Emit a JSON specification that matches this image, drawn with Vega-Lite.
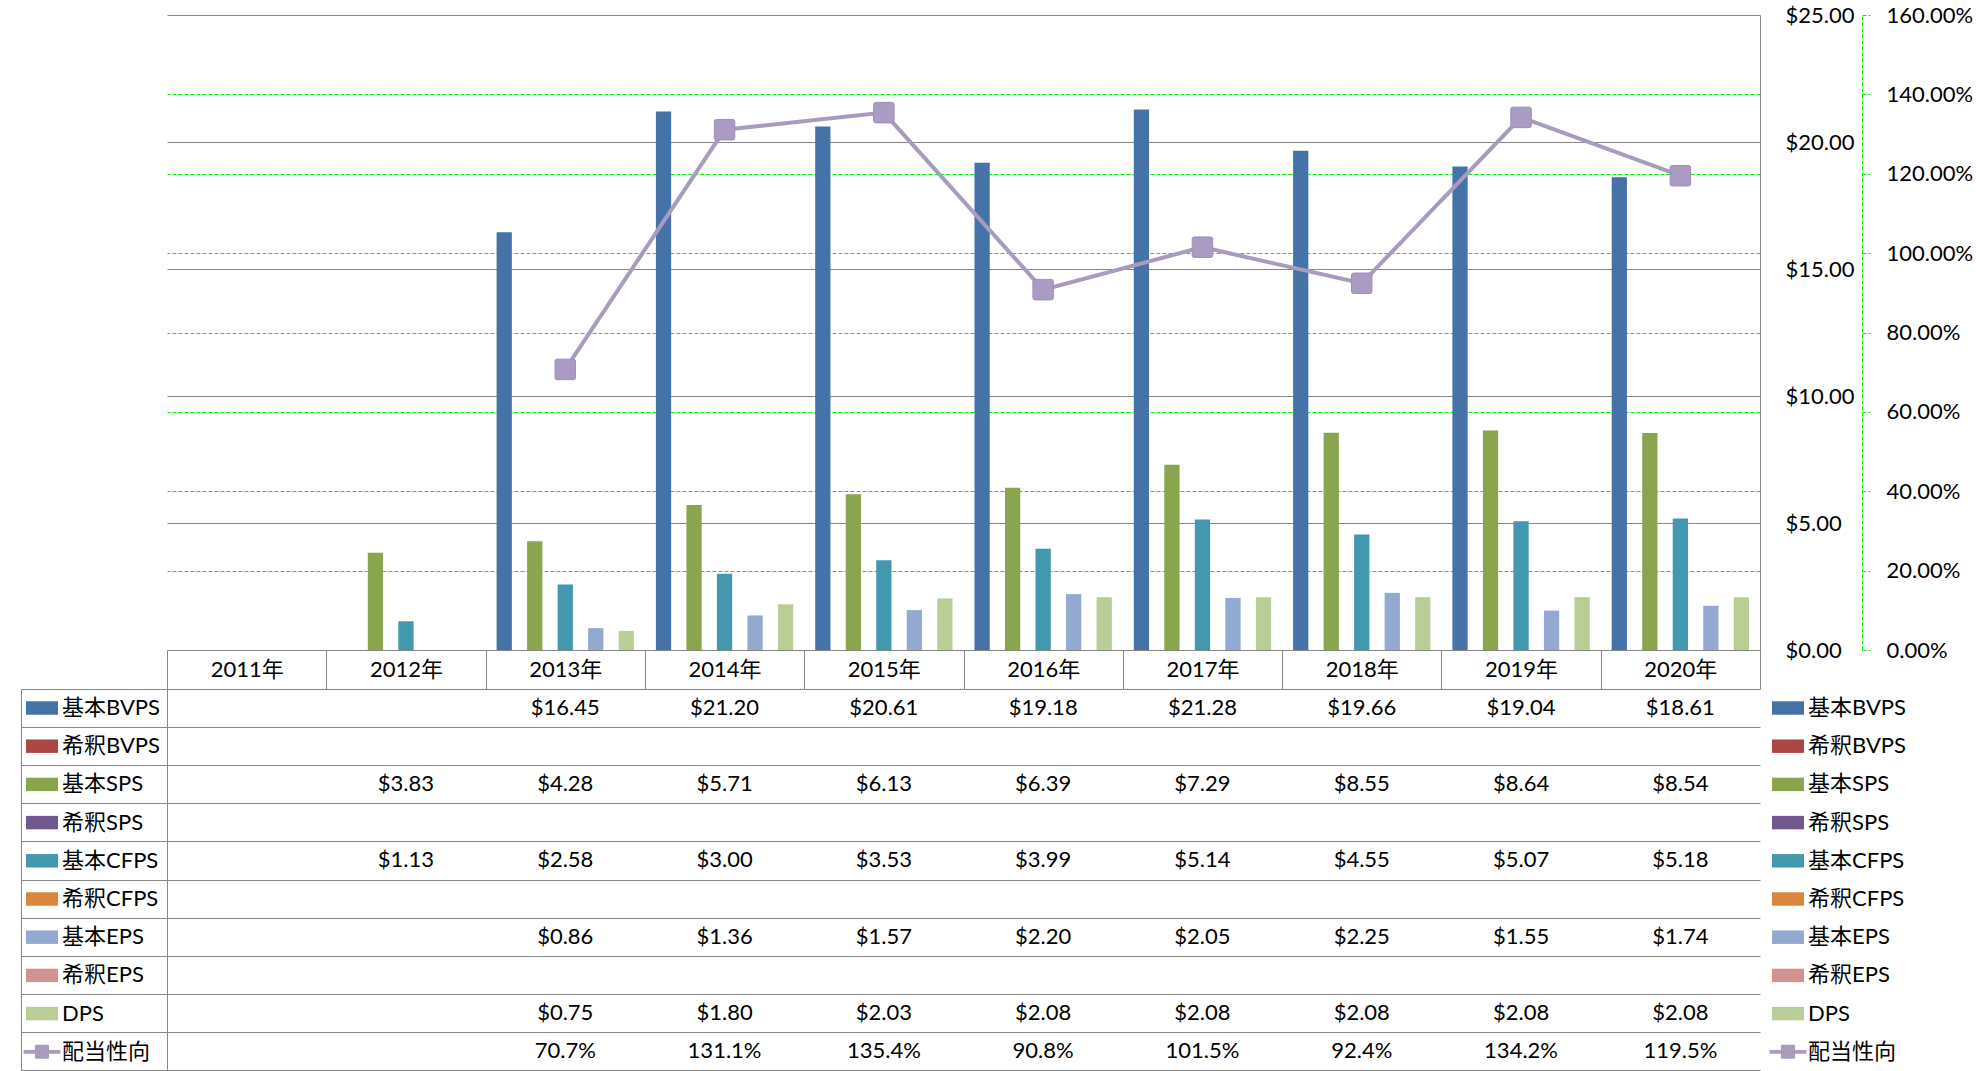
{
  "$schema": "https://vega.github.io/schema/vega-lite/v6.json",
  "background": "white",
  "padding": {"left": 20, "top": 4, "right": 0, "bottom": 0},
  "config": {
    "font": "Lato, 'Noto Sans CJK JP', sans-serif",
    "view": {"stroke": null},
    "axis": {"labelFont": "Lato, 'Noto Sans CJK JP', sans-serif", "labelFontSize": 22, "labelColor": "#000000"},
    "legend": {"labelFont": "Lato, 'Noto Sans CJK JP', sans-serif", "labelFontSize": 22, "labelColor": "#000000"}
  },
  "datasets": {
    "bars": [
      {"year": "2012年", "series": "基本SPS", "value": 3.83},
      {"year": "2012年", "series": "基本CFPS", "value": 1.13},
      {"year": "2013年", "series": "基本BVPS", "value": 16.45},
      {"year": "2013年", "series": "基本SPS", "value": 4.28},
      {"year": "2013年", "series": "基本CFPS", "value": 2.58},
      {"year": "2013年", "series": "基本EPS", "value": 0.86},
      {"year": "2013年", "series": "DPS", "value": 0.75},
      {"year": "2014年", "series": "基本BVPS", "value": 21.20},
      {"year": "2014年", "series": "基本SPS", "value": 5.71},
      {"year": "2014年", "series": "基本CFPS", "value": 3.00},
      {"year": "2014年", "series": "基本EPS", "value": 1.36},
      {"year": "2014年", "series": "DPS", "value": 1.80},
      {"year": "2015年", "series": "基本BVPS", "value": 20.61},
      {"year": "2015年", "series": "基本SPS", "value": 6.13},
      {"year": "2015年", "series": "基本CFPS", "value": 3.53},
      {"year": "2015年", "series": "基本EPS", "value": 1.57},
      {"year": "2015年", "series": "DPS", "value": 2.03},
      {"year": "2016年", "series": "基本BVPS", "value": 19.18},
      {"year": "2016年", "series": "基本SPS", "value": 6.39},
      {"year": "2016年", "series": "基本CFPS", "value": 3.99},
      {"year": "2016年", "series": "基本EPS", "value": 2.20},
      {"year": "2016年", "series": "DPS", "value": 2.08},
      {"year": "2017年", "series": "基本BVPS", "value": 21.28},
      {"year": "2017年", "series": "基本SPS", "value": 7.29},
      {"year": "2017年", "series": "基本CFPS", "value": 5.14},
      {"year": "2017年", "series": "基本EPS", "value": 2.05},
      {"year": "2017年", "series": "DPS", "value": 2.08},
      {"year": "2018年", "series": "基本BVPS", "value": 19.66},
      {"year": "2018年", "series": "基本SPS", "value": 8.55},
      {"year": "2018年", "series": "基本CFPS", "value": 4.55},
      {"year": "2018年", "series": "基本EPS", "value": 2.25},
      {"year": "2018年", "series": "DPS", "value": 2.08},
      {"year": "2019年", "series": "基本BVPS", "value": 19.04},
      {"year": "2019年", "series": "基本SPS", "value": 8.64},
      {"year": "2019年", "series": "基本CFPS", "value": 5.07},
      {"year": "2019年", "series": "基本EPS", "value": 1.55},
      {"year": "2019年", "series": "DPS", "value": 2.08},
      {"year": "2020年", "series": "基本BVPS", "value": 18.61},
      {"year": "2020年", "series": "基本SPS", "value": 8.54},
      {"year": "2020年", "series": "基本CFPS", "value": 5.18},
      {"year": "2020年", "series": "基本EPS", "value": 1.74},
      {"year": "2020年", "series": "DPS", "value": 2.08}
    ],
    "ratio": [
      {"year": "2013年", "ratio": 0.707},
      {"year": "2014年", "ratio": 1.311},
      {"year": "2015年", "ratio": 1.354},
      {"year": "2016年", "ratio": 0.908},
      {"year": "2017年", "ratio": 1.015},
      {"year": "2018年", "ratio": 0.924},
      {"year": "2019年", "ratio": 1.342},
      {"year": "2020年", "ratio": 1.195}
    ]
  },
  "spacing": 39,
  "bounds": "flush",
  "resolve": {"scale": {"color": "independent", "shape": "independent"}, "legend": {"color": "independent", "shape": "independent"}},
  "vconcat": [
    {
      "width": 1593,
      "height": 635,
      "layer": [
        {
          "data": {"name": "bars"},
          "mark": {"type": "bar"},
          "encoding": {
            "x": {
              "field": "year", "type": "nominal",
              "scale": {"domain": ["2011年", "2012年", "2013年", "2014年", "2015年", "2016年", "2017年", "2018年", "2019年", "2020年"], "paddingInner": 0, "paddingOuter": 0},
              "axis": {"orient": "bottom", "title": null, "labelAngle": 0, "tickBand": "extent", "tickSize": 39, "tickColor": "#868686", "domainColor": "#868686", "labelPadding": -19.5, "labelBaseline": "middle", "grid": false}
            },
            "xOffset": {
              "field": "series", "type": "nominal",
              "scale": {"domain": ["基本BVPS", "希釈BVPS", "基本SPS", "希釈SPS", "基本CFPS", "希釈CFPS", "基本EPS", "希釈EPS", "DPS"], "paddingInner": 0, "paddingOuter": 0.72}
            },
            "y": {
              "field": "value", "type": "quantitative",
              "scale": {"domain": [0, 25], "nice": false},
              "axis": {"orient": "right", "title": null, "values": [0, 5, 10, 15, 20, 25], "format": "$.2f", "grid": true, "gridColor": "#868686", "ticks": false, "domain": true, "domainColor": "#868686", "labelAlign": "left", "labelPadding": 25, "labelBaseline": "middle"}
            },
            "color": {
              "field": "series", "type": "nominal",
              "scale": {"domain": ["基本BVPS", "希釈BVPS", "基本SPS", "希釈SPS", "基本CFPS", "希釈CFPS", "基本EPS", "希釈EPS", "DPS"], "range": ["#4572A7", "#AA4643", "#89A54E", "#71588F", "#4198AF", "#DB843D", "#93A9CF", "#D19392", "#B9CD96"]},
              "legend": null
            }
          }
        },
        {
          "data": {"name": "ratio"},
          "mark": {
            "type": "line", "color": "#A99BBD", "strokeWidth": 4,
            "point": {"shape": "M-0.8,-1H0.8Q1,-1,1,-0.8V0.8Q1,1,0.8,1H-0.8Q-1,1,-1,0.8V-0.8Q-1,-1,-0.8,-1Z", "size": 420, "filled": true, "fill": "#A99BC4", "stroke": "#9E8FBB", "strokeWidth": 1, "opacity": 1}
          },
          "encoding": {
            "x": {"field": "year", "type": "nominal"},
            "y": {
              "field": "ratio", "type": "quantitative",
              "scale": {"domain": [0, 1.6], "nice": false},
              "axis": {"orient": "right", "offset": 102, "title": null, "values": [0, 0.2, 0.4, 0.6, 0.8, 1.0, 1.2, 1.4, 1.6], "format": ".2%", "grid": true, "gridColor": "#00EE00", "gridDash": [4, 2], "gridWidth": 1.2, "gridOpacity": {"condition": {"test": "datum.value < 0.01 || datum.value > 1.59", "value": 0}, "value": 1}, "domainColor": "#00EE00", "domainDash": [4, 2], "tickColor": "#00EE00", "tickDash": [4, 2], "tickSize": 8, "labelAlign": "left", "labelPadding": 16, "labelBaseline": "middle"}
            }
          }
        }
      ],
      "resolve": {"scale": {"y": "independent"}}
    },
    {
      "width": 1593,
      "height": 381,
      "layer": [
        {
          "data": {"name": "bars"},
          "mark": {"type": "text", "fontSize": 22, "color": "#000000"},
          "encoding": {
            "x": {
              "field": "year", "type": "nominal",
              "scale": {"domain": ["2011年", "2012年", "2013年", "2014年", "2015年", "2016年", "2017年", "2018年", "2019年", "2020年"], "paddingInner": 0, "paddingOuter": 0},
              "axis": {"orient": "top", "title": null, "labels": false, "ticks": false, "domain": true, "domainColor": "#868686", "grid": true, "gridColor": "#868686", "tickBand": "extent"}
            },
            "y": {
              "field": "series", "type": "nominal",
              "scale": {"domain": ["基本BVPS", "希釈BVPS", "基本SPS", "希釈SPS", "基本CFPS", "希釈CFPS", "基本EPS", "希釈EPS", "DPS", "配当性向"], "paddingInner": 0, "paddingOuter": 0},
              "axis": {"orient": "left", "title": null, "labels": false, "ticks": true, "tickSize": 146, "tickColor": "#868686", "tickBand": "extent", "grid": true, "gridColor": "#868686", "domain": true, "domainColor": "#868686"}
            },
            "text": {"field": "value", "type": "quantitative", "format": "$.2f"}
          }
        },
        {
          "data": {"name": "ratio"},
          "mark": {"type": "text", "fontSize": 22, "color": "#000000"},
          "encoding": {
            "x": {"field": "year", "type": "nominal", "axis": null},
            "y": {"datum": "配当性向", "type": "nominal", "axis": null},
            "text": {"field": "ratio", "type": "quantitative", "format": ".1%"}
          }
        },
        {
          "data": {"values": []},
          "mark": {"type": "point", "filled": true, "opacity": 1},
          "encoding": {
            "y": {"datum": "配当性向", "type": "nominal", "axis": {"orient": "left", "offset": 146, "title": null, "labels": false, "ticks": false, "grid": false, "domain": true, "domainColor": "#868686"}},
            "color": {
              "field": "series", "type": "nominal",
              "scale": {"domain": ["基本BVPS", "希釈BVPS", "基本SPS", "希釈SPS", "基本CFPS", "希釈CFPS", "基本EPS", "希釈EPS", "DPS", "配当性向"], "range": ["#4572A7", "#AA4643", "#89A54E", "#71588F", "#4198AF", "#DB843D", "#93A9CF", "#D19392", "#B9CD96", "#A99BBD"]},
              "legend": {"orient": "none", "legendX": -141, "legendY": 3, "direction": "vertical", "title": null, "symbolSize": 1024, "symbolStrokeWidth": 0, "symbolOpacity": 1, "labelOffset": 4, "rowPadding": 11.2, "padding": 0, "labelLimit": 400}
            },
            "shape": {
              "field": "series", "type": "nominal",
              "scale": {"domain": ["基本BVPS", "希釈BVPS", "基本SPS", "希釈SPS", "基本CFPS", "希釈CFPS", "基本EPS", "希釈EPS", "DPS", "配当性向"], "range": ["M-1,-0.42H1V0.42H-1Z", "M-1,-0.42H1V0.42H-1Z", "M-1,-0.42H1V0.42H-1Z", "M-1,-0.42H1V0.42H-1Z", "M-1,-0.42H1V0.42H-1Z", "M-1,-0.42H1V0.42H-1Z", "M-1,-0.42H1V0.42H-1Z", "M-1,-0.42H1V0.42H-1Z", "M-1,-0.42H1V0.42H-1Z", "M-1.15,-0.12H1.15V0.12H-1.15ZM-0.36,-0.44H0.36Q0.44,-0.44,0.44,-0.36V0.36Q0.44,0.44,0.36,0.44H-0.36Q-0.44,0.44,-0.44,0.36V-0.36Q-0.44,-0.44,-0.36,-0.44Z"]},
              "legend": {"orient": "none", "legendX": -141, "legendY": 3, "direction": "vertical", "title": null, "symbolSize": 1024, "symbolStrokeWidth": 0, "symbolOpacity": 1, "labelOffset": 4, "rowPadding": 11.2, "padding": 0, "labelLimit": 400}
            }
          }
        },
        {
          "data": {"values": []},
          "mark": {"type": "point", "filled": true, "opacity": 1},
          "encoding": {
            "color": {
              "field": "series", "type": "nominal",
              "legend": {"orient": "none", "legendX": 1605, "legendY": 3, "direction": "vertical", "title": null, "symbolSize": 1024, "symbolStrokeWidth": 0, "symbolOpacity": 1, "labelOffset": 4, "rowPadding": 11.2, "padding": 0, "labelLimit": 400}
            },
            "shape": {
              "field": "series", "type": "nominal",
              "legend": {"orient": "none", "legendX": 1605, "legendY": 3, "direction": "vertical", "title": null, "symbolSize": 1024, "symbolStrokeWidth": 0, "symbolOpacity": 1, "labelOffset": 4, "rowPadding": 11.2, "padding": 0, "labelLimit": 400}
            }
          }
        }
      ],
      "resolve": {"axis": {"y": "independent"}, "legend": {"color": "independent", "shape": "independent"}}
    }
  ]
}
